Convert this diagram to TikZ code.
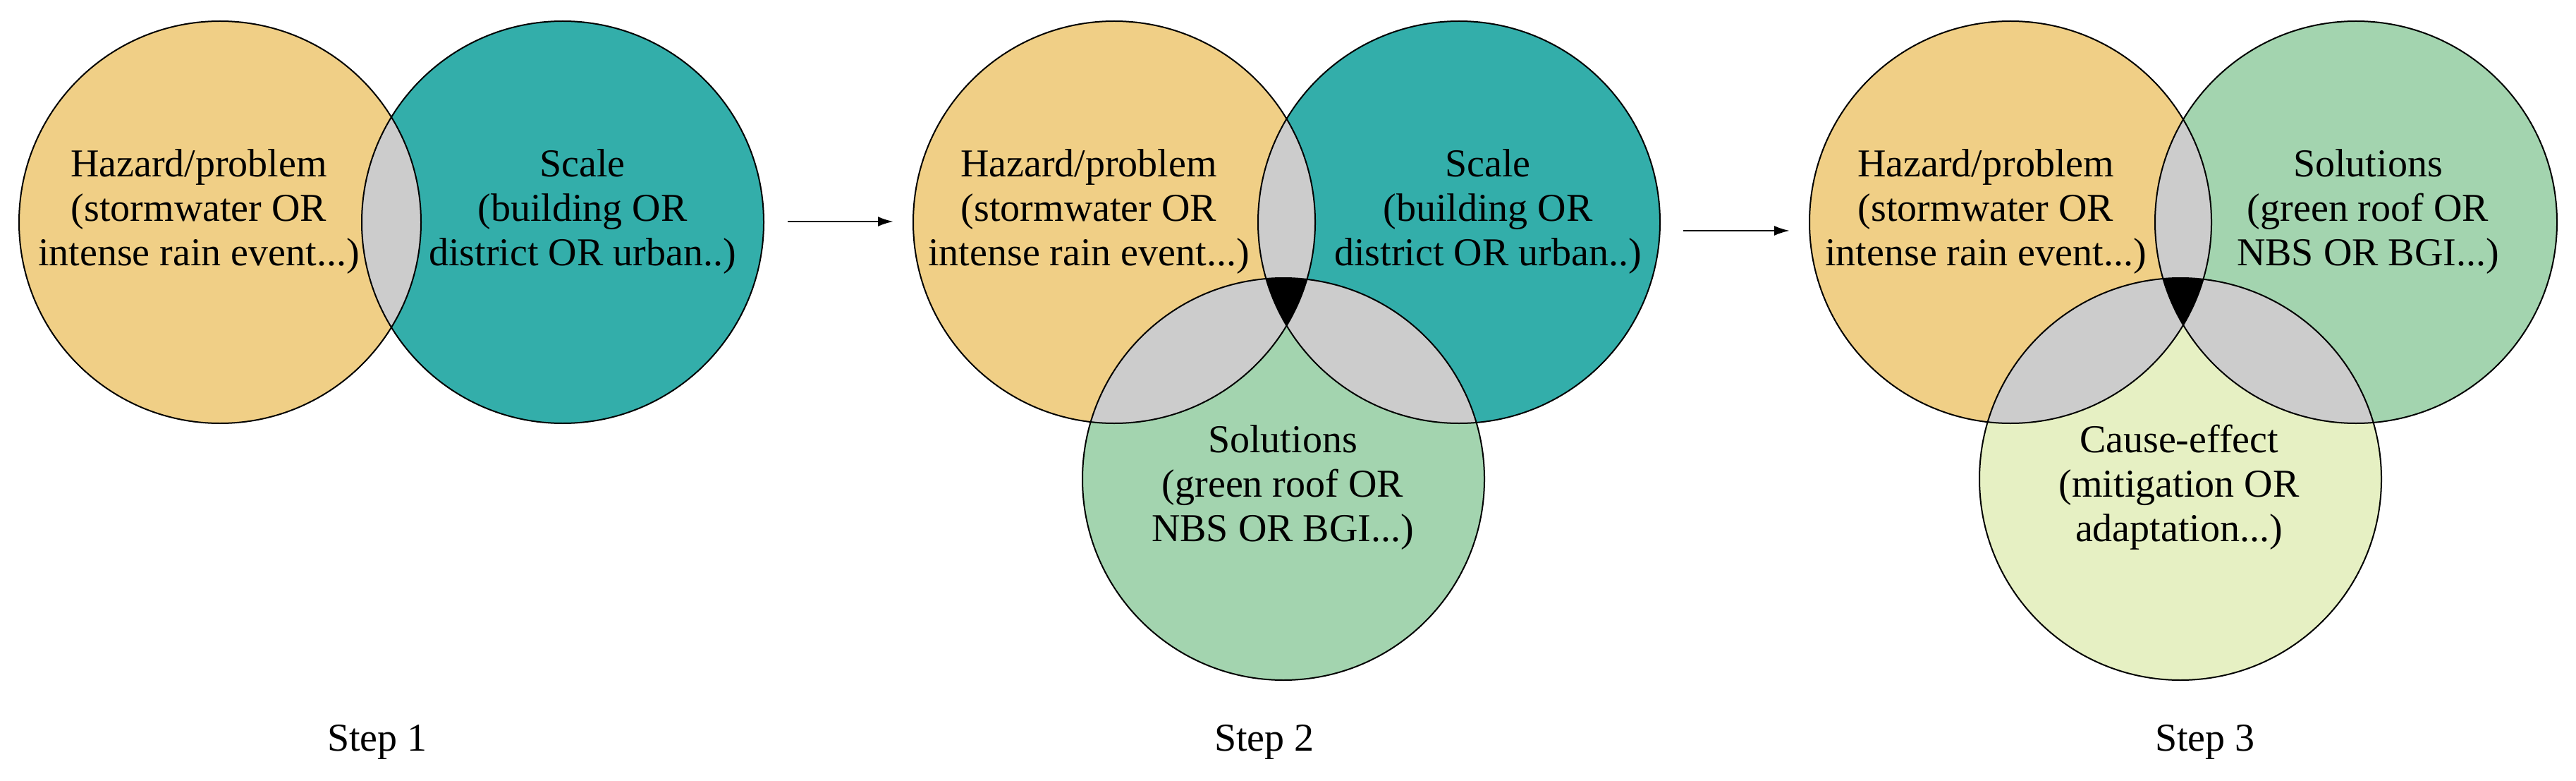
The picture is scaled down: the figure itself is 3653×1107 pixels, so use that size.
\documentclass[tikz,border=0pt]{standalone}
\usepackage{fontspec}
\setmainfont{Liberation Serif}
\usetikzlibrary{arrows.meta}
\definecolor{cOr}{HTML}{F0CF86}
\definecolor{cTe}{HTML}{33AEAA}
\definecolor{cGr}{HTML}{A3D4AF}
\definecolor{cLg}{HTML}{E6F0C3}
\definecolor{cGy}{HTML}{CCCCCC}
\begin{document}
\begin{tikzpicture}[x=1pt,y=-1pt,
  lbl/.style={align=center,font=\fontsize{56}{63}\selectfont,inner sep=0pt},
  outl/.style={draw=black,line width=2pt},
  arr/.style={-{Latex[length=22pt,width=14pt]},line width=2.5pt}]
\useasboundingbox (0,0) rectangle (3653,1107);
\def\R{285}
% Step 1
\coordinate (a1) at (312,315); \coordinate (b1) at (798,315);
\fill[cOr] (a1) circle (\R); \fill[cTe] (b1) circle (\R);
\begin{scope}\clip (a1) circle (\R); \fill[cGy] (b1) circle (\R);\end{scope}
\draw[outl] (a1) circle (\R) (b1) circle (\R);
% Step 2
\coordinate (a2) at (1580,315); \coordinate (b2) at (2069,315); \coordinate (c2) at (1820,679);
\fill[cOr] (a2) circle (\R); \fill[cTe] (b2) circle (\R); \fill[cGr] (c2) circle (\R);
\begin{scope}\clip (a2) circle (\R); \fill[cGy] (b2) circle (\R); \fill[cGy] (c2) circle (\R);\end{scope}
\begin{scope}\clip (b2) circle (\R); \fill[cGy] (c2) circle (\R);\end{scope}
\begin{scope}\clip (a2) circle (\R); \clip (b2) circle (\R); \fill[black] (c2) circle (\R);\end{scope}
\draw[outl] (a2) circle (\R) (b2) circle (\R) (c2) circle (\R);
% Step 3
\coordinate (a3) at (2851,315); \coordinate (b3) at (3341,315); \coordinate (c3) at (3092,679);
\fill[cOr] (a3) circle (\R); \fill[cGr] (b3) circle (\R); \fill[cLg] (c3) circle (\R);
\begin{scope}\clip (a3) circle (\R); \fill[cGy] (b3) circle (\R); \fill[cGy] (c3) circle (\R);\end{scope}
\begin{scope}\clip (b3) circle (\R); \fill[cGy] (c3) circle (\R);\end{scope}
\begin{scope}\clip (a3) circle (\R); \clip (b3) circle (\R); \fill[black] (c3) circle (\R);\end{scope}
\draw[outl] (a3) circle (\R) (b3) circle (\R) (c3) circle (\R);
% texts
\node[lbl] (t1a) at (282,300) {Hazard/problem\\(stormwater OR\\intense rain event...)};
\node[lbl] (t1b) at (826,300) {Scale\\(building OR\\district OR urban..)};
\node[lbl] (t2a) at (1544,300) {Hazard/problem\\(stormwater OR\\intense rain event...)};
\node[lbl] (t2b) at (2110,300) {Scale\\(building OR\\district OR urban..)};
\node[lbl] (t2c) at (1819,691) {Solutions\\(green roof OR\\NBS OR BGI...)};
\node[lbl] (t3a) at (2816,300) {Hazard/problem\\(stormwater OR\\intense rain event...)};
\node[lbl] (t3b) at (3358,300) {Solutions\\(green roof OR\\NBS OR BGI...)};
\node[lbl] (t3c) at (3090,691) {Cause-effect\\(mitigation OR\\adaptation...)};
\node[lbl] (s1) at (535,1052) {Step 1};
\node[lbl] (s2) at (1793,1052) {Step 2};
\node[lbl] (s3) at (3127,1052) {Step 3};
% arrows
\coordinate (p1) at (1117,314); \coordinate (q1) at (1267,314);
\coordinate (p2) at (2387,327); \coordinate (q2) at (2538,327);
\draw[arr] (p1) -- (q1);
\draw[arr] (p2) -- (q2);
\end{tikzpicture}
\end{document}
